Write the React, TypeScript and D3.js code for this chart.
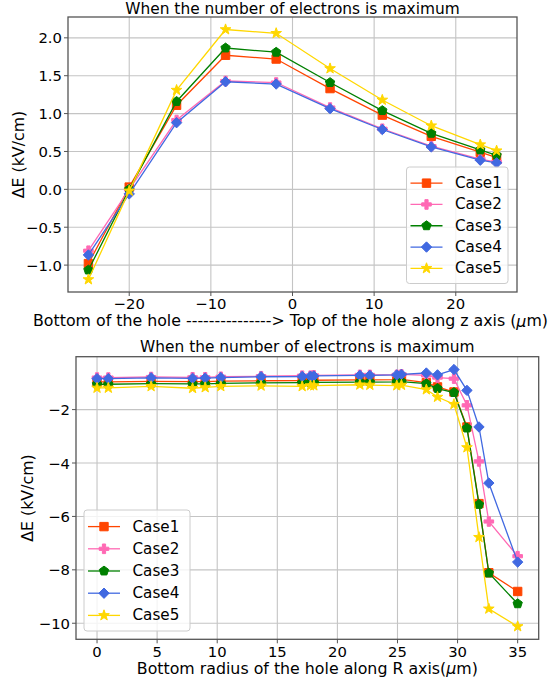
import React from "react";
import * as d3 from "d3";

// ---------- DATA ----------
const seriesNames = ["Case1", "Case2", "Case3", "Case4", "Case5"];
const seriesColors = ["#FF4500", "#FF69B4", "#008000", "#4169E1", "#FFD700"];
const seriesMarkers = ["square", "plus", "pentagon", "diamond", "star"];

const topTitle = "When the number of electrons is maximum";
const topXLabel = "Bottom of the hole ---------------> Top of the hole along z axis (";
const topYLabel = "ΔE (kV/cm)";
const topX = [-25, -20, -14.2, -8.2, -2, 4.6, 11, 17, 23, 25];
const topCase1 = [-0.98, 0.03, 1.11, 1.77, 1.72, 1.33, 0.98, 0.7, 0.49, 0.42];
const topCase2 = [-0.81, 0.0, 0.915, 1.43, 1.41, 1.08, 0.8, 0.57, 0.4, 0.36];
const topCase3 = [-1.065, 0.0, 1.16, 1.866, 1.81, 1.41, 1.04, 0.74, 0.52, 0.45];
const topCase4 = [-0.866, -0.06, 0.88, 1.42, 1.39, 1.065, 0.79, 0.56, 0.385, 0.35];
const topCase5 = [-1.19, -0.02, 1.31, 2.11, 2.06, 1.595, 1.18, 0.84, 0.59, 0.51];
const topXTicks = [-20, -10, 0, 10, 20];
const topYTicks = [-1.0, -0.5, 0.0, 0.5, 1.0, 1.5, 2.0];

const botTitle = "When the number of electrons is maximum";
const botXLabel = "Bottom radius of the hole along R axis(";
const botYLabel = "ΔE (kV/cm)";
const botX = [0, 0.94, 4.5, 7.95, 9.0, 10.3, 13.65, 17.07, 17.76, 18.04, 21.87, 22.7, 24.94, 25.33, 27.4, 28.33, 29.7, 30.78, 31.78, 32.6, 35];
const botCase1 = [-0.96, -0.96, -0.94, -0.95, -0.95, -0.93, -0.92, -0.91, -0.9, -0.9, -0.89, -0.89, -0.88, -0.87, -0.99, -1.15, -1.34, -2.65, -5.52, -8.11, -8.81];
const botCase2 = [-0.8, -0.8, -0.78, -0.79, -0.79, -0.77, -0.75, -0.73, -0.73, -0.72, -0.7, -0.7, -0.7, -0.68, -0.72, -0.8, -0.84, -1.84, -3.94, -6.19, -7.49];
const botCase3 = [-1.05, -1.05, -1.03, -1.04, -1.04, -1.02, -1.0, -0.99, -0.99, -0.98, -0.97, -0.97, -0.96, -0.95, -1.03, -1.21, -1.36, -2.69, -5.55, -8.12, -9.27];
const botCase4 = [-0.84, -0.84, -0.81, -0.83, -0.82, -0.8, -0.77, -0.76, -0.75, -0.74, -0.72, -0.72, -0.7, -0.68, -0.63, -0.7, -0.5, -1.28, -2.65, -4.75, -7.71];
const botCase5 = [-1.19, -1.19, -1.13, -1.2, -1.17, -1.13, -1.11, -1.13, -1.1, -1.1, -1.07, -1.08, -1.1, -1.08, -1.25, -1.53, -1.8, -3.42, -6.78, -9.46, -10.12];
const botXTicks = [0, 5, 10, 15, 20, 25, 30, 35];
const botYTicks = [-10, -8, -6, -4, -2];

// ---------- STYLE ----------
const FONT = "DejaVu Sans, sans-serif";
const TICK_FS = 14.8;
const LABEL_FS = 15.8;
const TITLE_FS = 15.4;
const LEGEND_FS = 15.2;

function markerPath(kind: string): string {
  if (kind === "square") {
    const h = 4.2;
    return `M${-h},${-h}H${h}V${h}H${-h}Z`;
  }
  if (kind === "plus") {
    const a = 4.8, b = 1.6;
    return `M${-b},${-a}H${b}V${-b}H${a}V${b}H${b}V${a}H${-b}V${b}H${-a}V${-b}H${-b}Z`;
  }
  if (kind === "pentagon") {
    const r = 4.9;
    const pts = d3.range(5).map((i) => {
      const ang = -Math.PI / 2 + (i * 2 * Math.PI) / 5;
      return [r * Math.cos(ang), r * Math.sin(ang)];
    });
    return "M" + pts.map((p) => p.join(",")).join("L") + "Z";
  }
  if (kind === "diamond") {
    const r = 5.2;
    return `M0,${-r}L${r},0L0,${r}L${-r},0Z`;
  }
  const R = 5.6, ri = R * 0.4;
  const pts = d3.range(10).map((i) => {
    const ang = -Math.PI / 2 + (i * Math.PI) / 5;
    const rr = i % 2 === 0 ? R : ri;
    return [rr * Math.cos(ang), rr * Math.sin(ang)];
  });
  return "M" + pts.map((p) => p.join(",")).join("L") + "Z";
}

function fmtTick(v: number, decimals: number): string {
  const s = v.toFixed(decimals);
  return s.replace("-", "\u2212");
}

type PanelProps = {
  left: number; right: number; top: number; bottom: number;
  xs: number[]; ys: number[][];
  xTicks: number[]; yTicks: number[]; yDec: number;
  title: string; xLabel: string; yLabel: string;
  yLabelX: number; xLabelX: number; xLabelY: number; titleY: number; xTickDy: number;
  legendX: number; legendY: number; legendW: number; legendH: number;
};

function Panel(p: PanelProps) {
  const xExt = d3.extent(p.xs) as [number, number];
  const allY = p.ys.flat();
  const yExt = d3.extent(allY) as [number, number];
  const xm = (xExt[1] - xExt[0]) * 0.05;
  const ym = (yExt[1] - yExt[0]) * 0.05;
  const x = d3.scaleLinear().domain([xExt[0] - xm, xExt[1] + xm]).range([p.left, p.right]);
  const y = d3.scaleLinear().domain([yExt[0] - ym, yExt[1] + ym]).range([p.bottom, p.top]);
  const line = d3.line<number>().x((_, i) => x(p.xs[i])).y((d) => y(d));
  const cx = (p.left + p.right) / 2;
  const cy = (p.top + p.bottom) / 2;
  const rowH = (p.legendH - 10) / 5;
  return (
    <g>
      {p.xTicks.map((t) => (
        <line key={"gx" + t} x1={x(t)} x2={x(t)} y1={p.top} y2={p.bottom} stroke="#c4c4c4" strokeWidth={1.1} />
      ))}
      {p.yTicks.map((t) => (
        <line key={"gy" + t} x1={p.left} x2={p.right} y1={y(t)} y2={y(t)} stroke="#c4c4c4" strokeWidth={1.1} />
      ))}
      {p.ys.map((vals, si) => (
        <g key={"s" + si}>
          <path d={line(vals) || ""} fill="none" stroke={seriesColors[si]} strokeWidth={1.3} />
          {vals.map((v, i) => (
            <path key={i} d={markerPath(seriesMarkers[si])} transform={`translate(${x(p.xs[i])},${y(v)})`}
              fill={seriesColors[si]} stroke={seriesColors[si]} strokeWidth={1} />
          ))}
        </g>
      ))}
      <rect x={p.left} y={p.top} width={p.right - p.left} height={p.bottom - p.top} fill="none" stroke="#555" strokeWidth={1.3} />
      {p.xTicks.map((t) => (
        <g key={"tx" + t}>
          <line x1={x(t)} x2={x(t)} y1={p.bottom} y2={p.bottom + 4} stroke="#555" strokeWidth={1} />
          <text x={x(t)} y={p.bottom + p.xTickDy} textAnchor="middle" dominantBaseline="central" fontSize={TICK_FS} fontFamily={FONT} fill="#000">
            {fmtTick(t, 0)}
          </text>
        </g>
      ))}
      {p.yTicks.map((t) => (
        <g key={"ty" + t}>
          <line x1={p.left - 4} x2={p.left} y1={y(t)} y2={y(t)} stroke="#555" strokeWidth={1} />
          <text x={p.left - 6} y={y(t)} textAnchor="end" dominantBaseline="central" fontSize={TICK_FS} fontFamily={FONT} fill="#000">
            {fmtTick(t, p.yDec)}
          </text>
        </g>
      ))}
      <text x={cx} y={p.titleY} textAnchor="middle" dominantBaseline="central" fontSize={TITLE_FS} fontFamily={FONT} fill="#000">{p.title}</text>
      <text x={p.xLabelX} y={p.xLabelY} textAnchor="middle" dominantBaseline="central" fontSize={LABEL_FS} fontFamily={FONT} fill="#000">
        {p.xLabel}<tspan fontStyle="italic">μ</tspan>m)
      </text>
      <text transform={`translate(${p.yLabelX},${cy}) rotate(-90)`} textAnchor="middle" dominantBaseline="central" fontSize={LABEL_FS} fontFamily={FONT} fill="#000">{p.yLabel}</text>
      <rect x={p.legendX} y={p.legendY} width={p.legendW} height={p.legendH} rx={3} fill="#fff" fillOpacity={0.8} stroke="#ccc" strokeWidth={1} />
      {seriesNames.map((n, si) => {
        const ly = p.legendY + 5 + rowH * (si + 0.5) + 0.5;
        const lx = p.legendX + 4;
        return (
          <g key={"l" + si}>
            <line x1={lx} x2={lx + 32} y1={ly} y2={ly} stroke={seriesColors[si]} strokeWidth={1.3} />
            <path d={markerPath(seriesMarkers[si])} transform={`translate(${lx + 16},${ly})`} fill={seriesColors[si]} stroke={seriesColors[si]} strokeWidth={1} />
            <text x={lx + 44.5} y={ly} dominantBaseline="central" fontSize={LEGEND_FS} fontFamily={FONT} fill="#000">{n}</text>
          </g>
        );
      })}
    </g>
  );
}

export default function App() {
  return (
    <svg width={550} height={682} style={{ position: "absolute", left: 0, top: 0, background: "#fff" }}>
      <rect width={550} height={682} fill="#fff" />
      <Panel left={68} right={517} top={17} bottom={292}
        xs={topX} ys={[topCase1, topCase2, topCase3, topCase4, topCase5]}
        xTicks={topXTicks} yTicks={topYTicks} yDec={1}
        title={topTitle} xLabel={topXLabel} yLabel={topYLabel}
        yLabelX={18.5} xLabelX={290.5} xLabelY={320.5} titleY={8.5} xTickDy={11.5}
        legendX={406.5} legendY={167} legendW={101.5} legendH={116.5} />
      <Panel left={76} right={538.7} top={356.7} bottom={639.3}
        xs={botX} ys={[botCase1, botCase2, botCase3, botCase4, botCase5]}
        xTicks={botXTicks} yTicks={botYTicks} yDec={0}
        title={botTitle} xLabel={botXLabel} yLabel={botYLabel}
        yLabelX={27} xLabelX={307.35} xLabelY={668} titleY={347} xTickDy={12}
        legendX={84} legendY={510} legendW={106} legendH={121} />
    </svg>
  );
}
